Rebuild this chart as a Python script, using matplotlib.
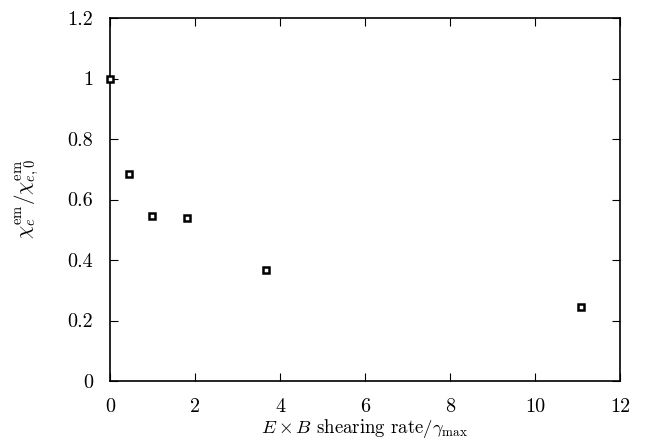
import matplotlib
matplotlib.use('Agg')
import matplotlib.pyplot as plt

plt.rcParams['font.family'] = 'serif'
plt.rcParams['font.serif'] = ['cmr10', 'DejaVu Serif']
plt.rcParams['mathtext.fontset'] = 'cm'
plt.rcParams['axes.unicode_minus'] = False

shear_rate = [0.0, 0.45, 0.99, 1.81, 3.67, 11.08]
chi_ratio = [1.0, 0.684, 0.545, 0.539, 0.367, 0.245]

xticks = [0, 2, 4, 6, 8, 10, 12]
yticks = [0, 0.2, 0.4, 0.6, 0.8, 1, 1.2]
ytick_labels = ['0', '0.2', '0.4', '0.6', '0.8', '1', '1.2']

fig = plt.figure(figsize=(6.49, 4.46), dpi=100)
ax = fig.add_axes([0.1695, 0.1457, 0.7858, 0.8139])

ax.plot(shear_rate, chi_ratio, linestyle='none', marker='s', markersize=5,
        markerfacecolor='white', markeredgecolor='black', markeredgewidth=1.8,
        clip_on=False, zorder=5)

ax.set_xlim(0, 12)
ax.set_ylim(0, 1.2)
ax.set_xticks(xticks)
ax.set_xticklabels([str(t) for t in xticks])
ax.set_yticks(yticks)
ax.set_yticklabels(ytick_labels)
ax.tick_params(direction='in', top=True, right=True, length=6, width=0.8,
               labelsize=14.5)
ax.tick_params(axis='x', pad=12)
ax.tick_params(axis='y', pad=12)
for s in ax.spines.values():
    s.set_linewidth(1.2)

ax.set_xlabel(r'$E\times B$ shearing rate$/\gamma_{\rm max}$', fontsize=13.5, labelpad=1)
ax.set_ylabel(r'$\chi_e^{\rm em}/\chi_{e,0}^{\rm em}$', fontsize=15, labelpad=19)

fig.savefig('out.png', dpi=100)
